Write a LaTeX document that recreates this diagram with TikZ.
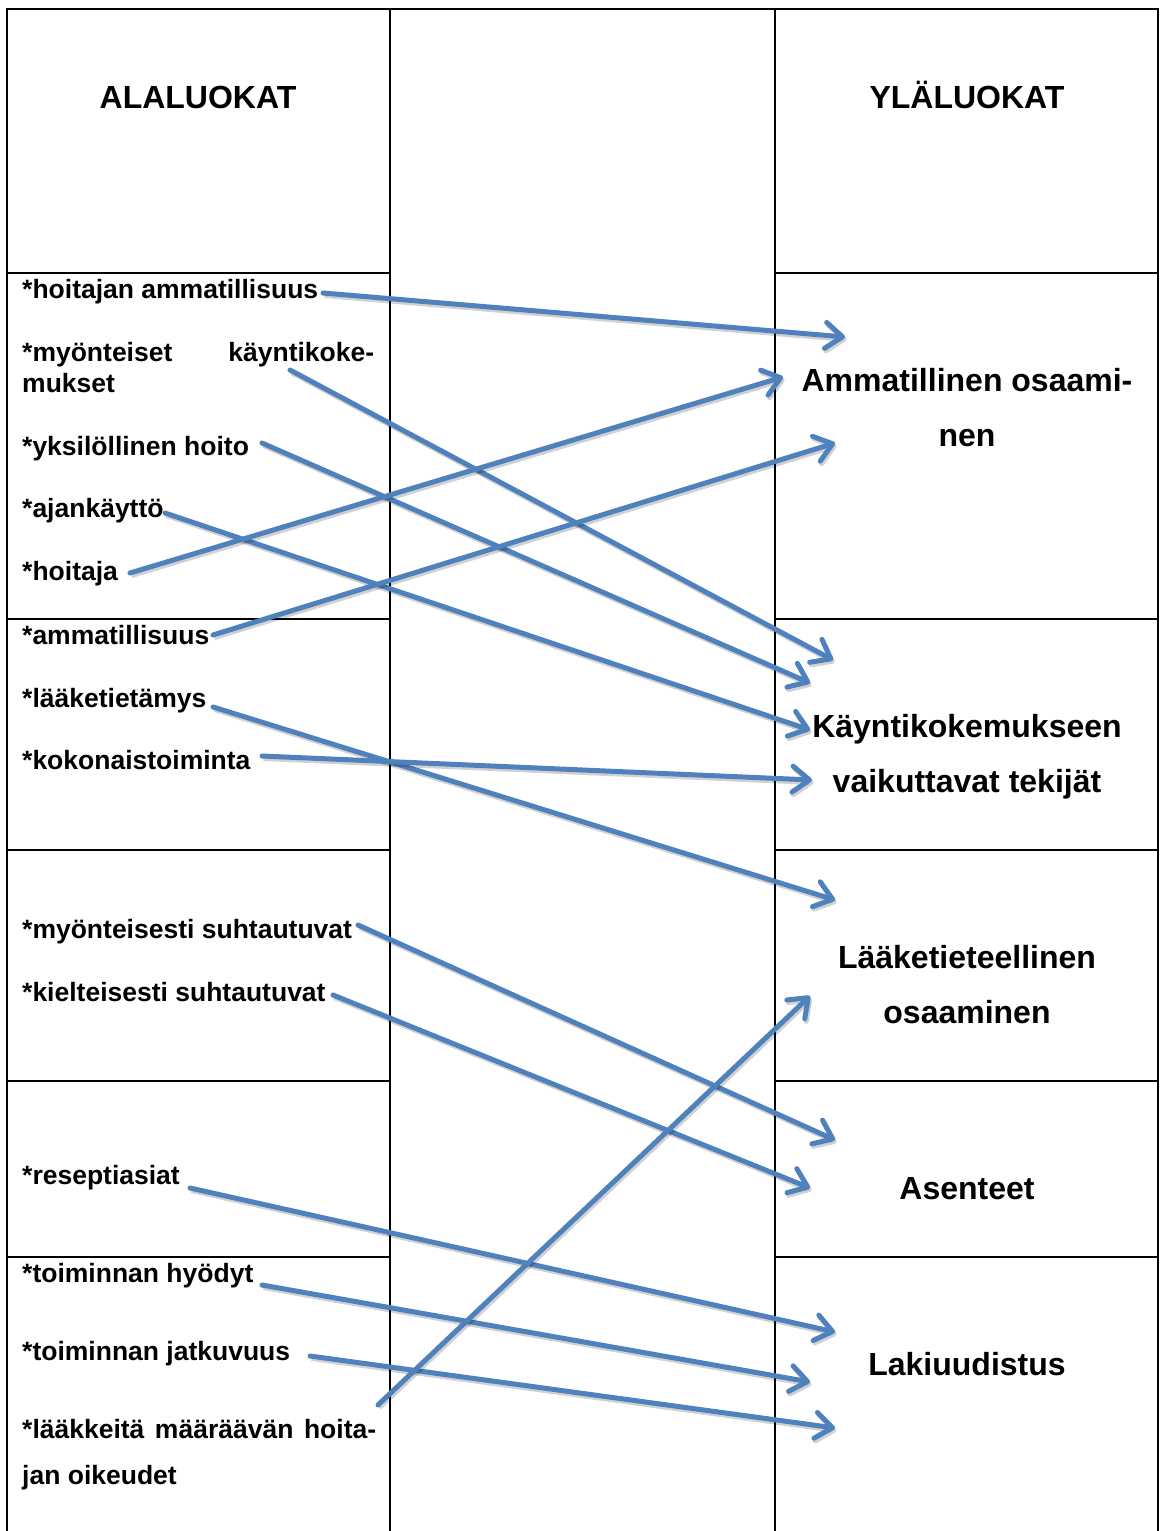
\documentclass[tikz,border=0pt]{standalone}
\usepackage{fontspec}
\setmainfont{Liberation Sans}
\usetikzlibrary{arrows.meta}
\definecolor{arrowblue}{HTML}{4F81BD}
\begin{document}
\begin{tikzpicture}[x=1pt,y=-1pt,
  frame/.style={draw=black,line width=2.2pt},
  lefttext/.style={anchor=base west,inner sep=0pt,font=\fontsize{26.5}{31}\selectfont\bfseries},
  righttext/.style={anchor=base,inner sep=0pt,font=\fontsize{32}{38}\selectfont\bfseries},
  conn/.style={draw=arrowblue,line width=5pt,line cap=round,line join=round,
    -{Straight Barb[length=17pt,width=26pt,line cap=round,line join=round]},
    preaction={draw=black,opacity=0.18,line width=5pt,transform canvas={shift={(1.5pt,-2.5pt)}},
      -{Straight Barb[length=17pt,width=26pt,line cap=round,line join=round]}}}
]
\useasboundingbox (0,0) rectangle (1160,1531);
\fill[white] (0,0) rectangle (1160,1531);
% frame
\draw[frame] (7,1531) -- (7,9) -- (1158,9) -- (1158,1531);
\draw[frame] (390,9) -- (390,1531);
\draw[frame] (775,9) -- (775,1531);
\foreach \yy in {273,619,850,1081,1257}{
  \draw[frame] (7,\yy) -- (390,\yy);
  \draw[frame] (775,\yy) -- (1158,\yy);
}
% headers
\node[righttext] (hl) at (198,108) {ALALUOKAT};
\node[righttext] (hr) at (967,108) {YLÄLUOKAT};
% left items
\node[lefttext] (l1) at (22,298) {*hoitajan ammatillisuus};
\node[lefttext] (l2) at (22,361) {\makebox[352pt][s]{*myönteiset käyntikoke-}};
\node[lefttext] (l2b) at (22,392) {mukset};
\node[lefttext] (l3) at (22,455) {*yksilöllinen hoito};
\node[lefttext] (l4) at (22,517) {*ajankäyttö};
\node[lefttext] (l5) at (22,580) {*hoitaja};
\node[lefttext] (l6) at (22,644) {*ammatillisuus};
\node[lefttext] (l7) at (22,707) {*lääketietämys};
\node[lefttext] (l8) at (22,769) {*kokonaistoiminta};
\node[lefttext] (l9) at (22,938) {*myönteisesti suhtautuvat};
\node[lefttext] (l10) at (22,1001) {*kielteisesti suhtautuvat};
\node[lefttext] (l11) at (22,1184) {*reseptiasiat};
\node[lefttext] (l12) at (22,1282) {*toiminnan hyödyt};
\node[lefttext] (l13) at (22,1360) {*toiminnan jatkuvuus};
\node[lefttext] (l14) at (22,1438) {\makebox[354pt][s]{*lääkkeitä määräävän hoita-}};
\node[lefttext] (l14b) at (22,1484) {jan oikeudet};
% right items
\node[righttext] (r1) at (967,391) {Ammatillinen osaami-};
\node[righttext] (r1b) at (967,446) {nen};
\node[righttext] (r2) at (967,737) {Käyntikokemukseen};
\node[righttext] (r2b) at (967,792) {vaikuttavat tekijät};
\node[righttext] (r3) at (967,968) {Lääketieteellinen};
\node[righttext] (r3b) at (967,1023) {osaaminen};
\node[righttext] (r4) at (967,1199) {Asenteet};
\node[righttext] (r5) at (967,1375) {Lakiuudistus};
% connector ends
\coordinate (t1) at (323,293);  \coordinate (h1) at (845,337);
\coordinate (t2) at (290,370);  \coordinate (h2) at (833,660);
\coordinate (t3) at (262,443);  \coordinate (h3) at (810,683);
\coordinate (t4) at (165,513);  \coordinate (h4) at (810,730);
\coordinate (t5) at (130,573);  \coordinate (h5) at (783,377);
\coordinate (t6) at (213,635);  \coordinate (h6) at (835,443);
\coordinate (t7) at (213,707);  \coordinate (h7) at (835,900);
\coordinate (t8) at (262,756);  \coordinate (h8) at (812,780);
\coordinate (t9) at (358,925);  \coordinate (h9) at (835,1140);
\coordinate (t10) at (333,995); \coordinate (h10) at (810,1188);
\coordinate (t11) at (190,1188); \coordinate (h11) at (835,1332);
\coordinate (t12) at (262,1285); \coordinate (h12) at (810,1382);
\coordinate (t13) at (310,1356); \coordinate (h13) at (835,1428);
\coordinate (t14) at (378,1405); \coordinate (h14) at (810,996);
\foreach \i in {1,...,14}{
  \draw[conn] (t\i) -- (h\i);
}
\end{tikzpicture}
\end{document}
